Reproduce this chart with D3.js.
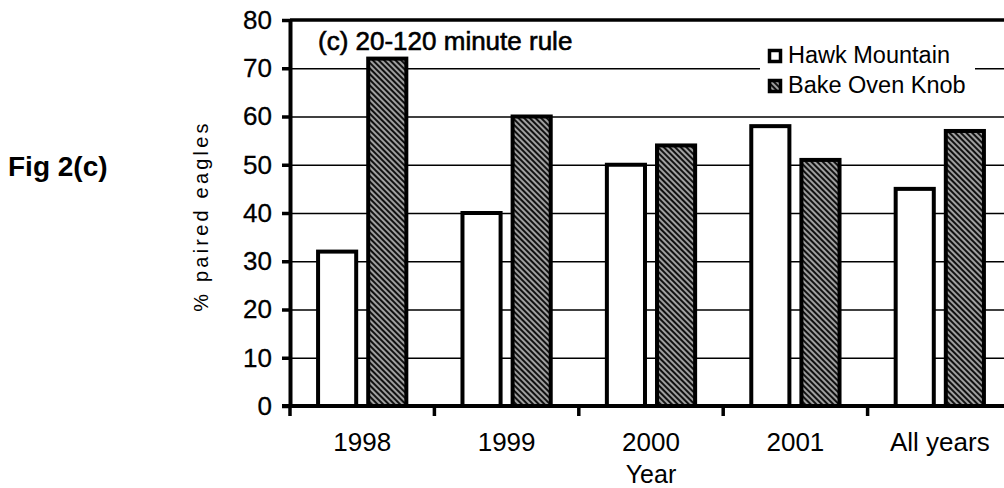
<!DOCTYPE html>
<html>
<head>
<meta charset="utf-8">
<script src="https://cdn.jsdelivr.net/npm/d3@7"></script>
<style>
  body { margin: 0; background: #fff; }
  svg { display: block; font-family: 'Liberation Sans', Arial, sans-serif; }
</style>
</head>
<body>
<script>
// data
const categories = ['1998', '1999', '2000', '2001', 'All years']
const hawkMountain = [32, 40, 50, 58, 45]
const bakeOvenKnob = [72, 60, 54, 51, 57]
const seriesNames = ['Hawk Mountain', 'Bake Oven Knob']
const yTicks = [0, 10, 20, 30, 40, 50, 60, 70, 80]

const width = 1004
const height = 488
const plotLeft = 290
const plotRight = 1012
const plotTop = 20
const plotBottom = 406

const svg = d3.select('body')
    .append('svg')
    .attr('width', width)
    .attr('height', height)

// hatch used for the Bake Oven Knob bars
const defs = svg.append('defs')
const hatch = defs.append('pattern')
    .attr('id', 'hatch')
    .attr('patternUnits', 'userSpaceOnUse')
    .attr('width', 4)
    .attr('height', 4)
    .attr('patternTransform', 'rotate(45)')
hatch.append('rect')
    .attr('width', 4)
    .attr('height', 4)
    .attr('fill', '#111')
hatch.append('line')
    .attr('x1', 0).attr('x2', 4)
    .attr('y1', 2).attr('y2', 2)
    .attr('stroke', '#fff')
    .attr('stroke-width', 1.2)

const x = d3.scaleBand()
    .domain(categories)
    .range([plotLeft, plotRight])

const xSub = d3.scaleBand()
    .domain(seriesNames)
    .range([0, x.bandwidth()])
    .paddingInner(0.18)
    .paddingOuter(0.53)

const y = d3.scaleLinear()
    .domain([0, 80])
    .range([plotBottom, plotTop])

// gridlines
svg.append('g')
    .attr('transform', `translate(${plotLeft},0)`)
    .call(d3.axisLeft(y).tickValues(yTicks.slice(1, -1)).tickSize(-(width - plotLeft)).tickFormat(''))
    .call(g => g.select('.domain').remove())
    .call(g => g.selectAll('line').attr('stroke', '#000').attr('stroke-width', 1.6))

// top border of plot area
svg.append('line')
    .attr('x1', plotLeft).attr('x2', width)
    .attr('y1', y(80)).attr('y2', y(80))
    .attr('stroke', '#000')
    .attr('stroke-width', 3.5)

// bars
const rows = categories.map((c, i) => ({ cat: c, values: [hawkMountain[i], bakeOvenKnob[i]] }))
const group = svg.selectAll('.group')
    .data(rows)
    .enter()
    .append('g')
    .attr('class', 'group')
    .attr('transform', d => `translate(${x(d.cat)},0)`)

group.selectAll('rect')
    .data(d => d.values.map((v, k) => ({ key: seriesNames[k], value: v })))
    .enter()
    .append('rect')
    .attr('x', d => xSub(d.key) + 1.5)
    .attr('y', d => y(d.value))
    .attr('width', xSub.bandwidth() - 3)
    .attr('height', d => y(0) - y(d.value))
    .attr('fill', d => d.key === 'Hawk Mountain' ? '#fff' : 'url(#hatch)')
    .attr('stroke', '#000')
    .attr('stroke-width', 4)

// y axis
svg.append('g')
    .attr('transform', `translate(${plotLeft},0)`)
    .call(d3.axisLeft(y).tickValues(yTicks).tickSize(8).tickSizeOuter(0).tickPadding(10))
    .call(g => g.select('.domain').attr('stroke-width', 4))
    .call(g => g.selectAll('.tick line').attr('stroke-width', 3.5))
    .call(g => g.selectAll('text').attr('font-size', 26).attr('fill', '#000').attr('font-family', null)
        .attr('stroke', '#000').attr('stroke-width', 0.3))

// x axis line and ticks at category boundaries
const xBounds = categories.map(c => x(c)).concat([x.range()[1]])
svg.append('line')
    .attr('x1', plotLeft - 8).attr('x2', width)
    .attr('y1', y(0)).attr('y2', y(0))
    .attr('stroke', '#000')
    .attr('stroke-width', 4)
svg.append('g')
    .selectAll('line')
    .data(xBounds)
    .enter()
    .append('line')
    .attr('x1', d => d).attr('x2', d => d)
    .attr('y1', y(0)).attr('y2', y(0) + 10)
    .attr('stroke', '#000')
    .attr('stroke-width', 3.5)

svg.append('g')
    .attr('transform', `translate(0,${y(0)})`)
    .call(d3.axisBottom(x).tickSize(0).tickPadding(26.5))
    .call(g => g.select('.domain').remove())
    .call(g => g.selectAll('text').attr('font-size', 26).attr('fill', '#000').attr('font-family', null))

// axis titles
svg.append('text')
    .attr('x', x('2000') + x.bandwidth() / 2)
    .attr('y', 483)
    .attr('text-anchor', 'middle')
    .attr('font-size', 25)
    .text('Year')

svg.append('text')
    .attr('transform', 'translate(208,216) rotate(-90)')
    .attr('text-anchor', 'middle')
    .attr('font-size', 20)
    .attr('letter-spacing', 3.2)
    .text('% paired eagles')

svg.append('text')
    .attr('x', 8)
    .attr('y', 176)
    .attr('font-size', 28)
    .attr('font-weight', 'bold')
    .text('Fig 2(c)')

svg.append('text')
    .attr('x', 318)
    .attr('y', 50)
    .attr('font-size', 26)
    .attr('stroke', '#000')
    .attr('stroke-width', 0.6)
    .text('(c) 20-120 minute rule')

// legend, white box hides gridlines
const legend = svg.append('g').attr('id', 'legend')
legend.append('rect')
    .attr('x', 760).attr('y', 30)
    .attr('width', 215).attr('height', 78)
    .attr('fill', '#fff')
legend.selectAll('.item')
    .data(seriesNames)
    .enter()
    .append('g')
    .attr('class', 'item')
    .attr('transform', (d, i) => `translate(768,${63 + i * 30})`)
    .call(g => g.append('rect')
        .attr('x', 1.5).attr('y', -12.5)
        .attr('width', 11).attr('height', 11)
        .attr('fill', d => d === 'Hawk Mountain' ? '#fff' : 'url(#hatch)')
        .attr('stroke', '#000')
        .attr('stroke-width', 3.5))
    .call(g => g.append('text')
        .attr('x', 20)
        .attr('y', 0)
        .attr('font-size', 23.5)
        .text(d => d))
</script>
</body>
</html>
